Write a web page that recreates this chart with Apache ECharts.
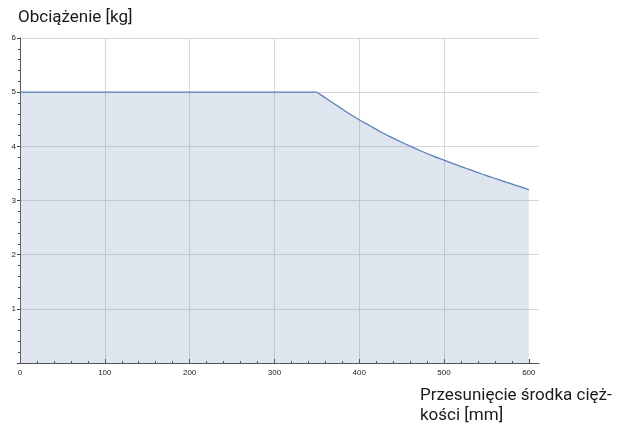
<!DOCTYPE html>
<html><head><meta charset="utf-8">
<script src="https://cdn.jsdelivr.net/npm/echarts@6/dist/echarts.min.js"></script>
<style>html,body{margin:0;padding:0;background:#fff}#c{width:618px;height:434px}</style>
</head><body><div id="c"></div>
<script>
const flatX = [0, 350];
const flatLoad = [5, 5];
const curveX = [350, 362.5, 375, 387.5, 400, 412.5, 425, 437.5, 450, 462.5, 475, 487.5, 500, 512.5, 525, 537.5, 550, 562.5, 575, 587.5, 600];
const curveLoad = [5, 4.87, 4.74, 4.61, 4.49, 4.38, 4.27, 4.17, 4.075, 3.985, 3.9, 3.82, 3.745, 3.67, 3.6, 3.53, 3.46, 3.395, 3.33, 3.265, 3.2];
const xTickValues = [0, 100, 200, 300, 400, 500, 600];
const yTitle = 'Obciążenie [kg]';
const xTitle = 'Przesunięcie środka cięż-\nkości [mm]';

const chart = echarts.init(document.getElementById('c'), null, {renderer: 'canvas'});
const pairs = (xs, ys) => xs.map((x, i) => [x, ys[i]]);
const tickFont = {fontSize: 8, color: '#222', fontFamily: 'Liberation Sans, Arial, sans-serif'};
const lineStyle = {color: '#5a7fbd', width: 1.3};
const areaStyle = {color: 'rgba(127,151,191,0.25)', opacity: 1, origin: 'start'};
chart.setOption({
  animation: false,
  grid: {left: 20, right: 79, top: 38, bottom: 71, containLabel: false},
  title: [
    {text: yTitle, left: 13, top: 4, textStyle: {fontSize: 17, fontWeight: 'normal', color: '#1a1a1a', fontFamily: 'Roboto, sans-serif'}},
    {text: xTitle, left: 415, top: 381, textStyle: {fontSize: 17, fontWeight: 'normal', color: '#1a1a1a', fontFamily: 'Roboto, sans-serif', lineHeight: 20}}
  ],
  xAxis: {
    type: 'value', min: 0, max: 612, interval: 100,
    axisLine: {show: true, onZero: false, lineStyle: {color: '#555', width: 1}},
    axisTick: {show: true, inside: true, length: 4, customValues: xTickValues, lineStyle: {color: '#444'}},
    minorTick: {show: true, splitNumber: 5, length: 2, lineStyle: {color: '#444'}},
    axisLabel: Object.assign({margin: 6, customValues: xTickValues}, tickFont),
    splitLine: {show: true, showMaxLine: false, showMinLine: false, lineStyle: {color: '#d6d6d6', width: 1}}
  },
  yAxis: {
    type: 'value', min: 0, max: 6, interval: 1,
    axisLine: {show: true, onZero: false, lineStyle: {color: '#555', width: 1}},
    axisTick: {show: true, inside: false, length: 3, lineStyle: {color: '#444'}},
    minorTick: {show: true, splitNumber: 5, length: 2, lineStyle: {color: '#444'}},
    axisLabel: Object.assign({margin: 4, formatter: v => (v === 0 ? '' : String(v))}, tickFont),
    splitLine: {show: true, showMinLine: false, lineStyle: {color: '#d6d6d6', width: 1}}
  },
  series: [
    {type: 'line', data: pairs(flatX, flatLoad), symbol: 'none', lineStyle: lineStyle, areaStyle: areaStyle},
    {type: 'line', data: pairs(curveX, curveLoad), symbol: 'none', smooth: 0.3, lineStyle: lineStyle, areaStyle: areaStyle}
  ]
});
</script></body></html>
